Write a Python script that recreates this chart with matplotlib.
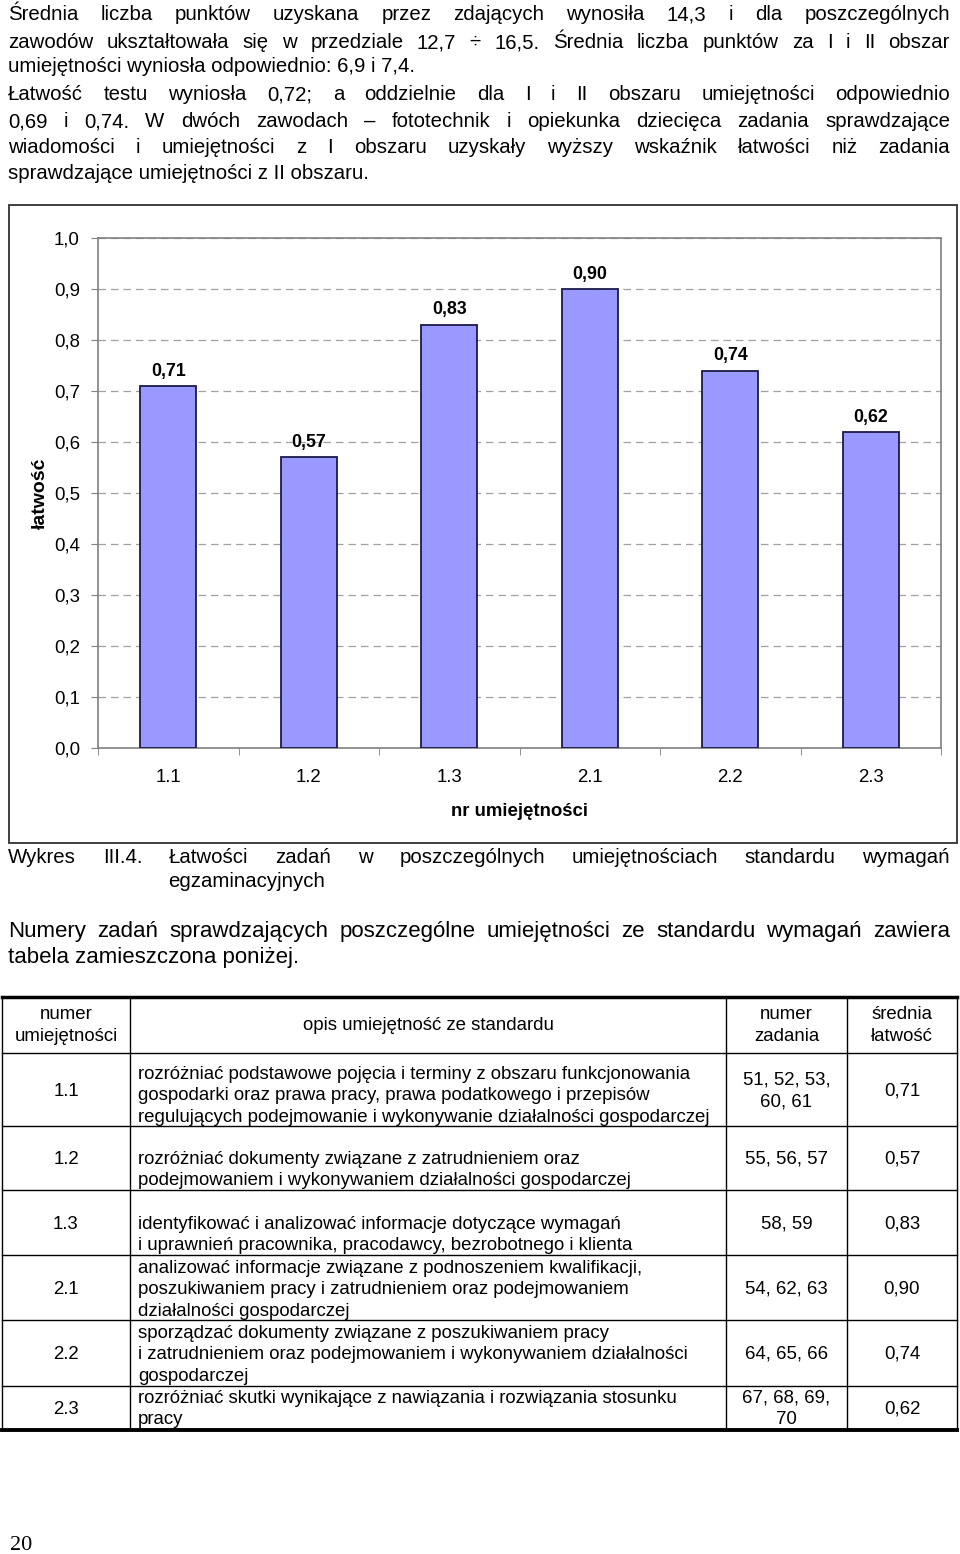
import numpy as np
import matplotlib.pyplot as plt
from matplotlib.ticker import FuncFormatter, MultipleLocator

plt.rcParams['font.family'] = ['Liberation Sans', 'DejaVu Sans']

# data
skills = ['1.1', '1.2', '1.3', '2.1', '2.2', '2.3']
ease = [0.71, 0.57, 0.83, 0.90, 0.74, 0.62]
task_numbers = [['51, 52, 53,', '60, 61'], ['55, 56, 57'], ['58, 59'],
                ['54, 62, 63'], ['64, 65, 66'], ['67, 68, 69,', '70']]
descriptions = [
    ['rozróżniać podstawowe pojęcia i terminy z obszaru funkcjonowania',
     'gospodarki oraz prawa pracy, prawa podatkowego i przepisów',
     'regulujących podejmowanie i wykonywanie działalności gospodarczej'],
    ['rozróżniać dokumenty związane z zatrudnieniem oraz',
     'podejmowaniem i wykonywaniem działalności gospodarczej'],
    ['identyfikować i analizować informacje dotyczące wymagań',
     'i uprawnień pracownika, pracodawcy, bezrobotnego i klienta'],
    ['analizować informacje związane z podnoszeniem kwalifikacji,',
     'poszukiwaniem pracy i zatrudnieniem oraz podejmowaniem',
     'działalności gospodarczej'],
    ['sporządzać dokumenty związane z poszukiwaniem pracy',
     'i zatrudnieniem oraz podejmowaniem i wykonywaniem działalności',
     'gospodarczej'],
    ['rozróżniać skutki wynikające z nawiązania i rozwiązania stosunku',
     'pracy'],
]

intro = [
    ('Średnia liczba punktów uzyskana przez zdających wynosiła 14,3 i dla poszczególnych', True),
    ('zawodów ukształtowała się w przedziale 12,7 ÷ 16,5. Średnia liczba punktów za I i II obszar', True),
    ('umiejętności wyniosła odpowiednio: 6,9 i 7,4.', False),
    ('Łatwość testu wyniosła 0,72; a oddzielnie dla I i II obszaru umiejętności odpowiednio', True),
    ('0,69 i 0,74. W dwóch zawodach – fototechnik i opiekunka dziecięca zadania sprawdzające', True),
    ('wiadomości i umiejętności z I obszaru uzyskały wyższy wskaźnik łatwości niż zadania', True),
    ('sprawdzające umiejętności z II obszaru.', False),
]
intro_y = [14, 42, 66, 94, 121, 147, 173]

W, H = 960, 1554
fig = plt.figure(figsize=(W / 100, H / 100), dpi=100)
page = fig.add_axes([0, 0, 1, 1])
page.set_xlim(0, W)
page.set_ylim(H, 0)
page.axis('off')
r = fig.canvas.get_renderer()

TXT = 14.7
BIG = 16
TS = 13.4


def base(y, size):
    # visual centre -> baseline
    return y + 0.3 * size * 100 / 72


def put(x, y, s, size, ha='left', **kw):
    return page.text(x, base(y, size), s, fontsize=size, ha=ha, va='baseline', **kw)


def justify(line, y, x0, x1, size, full=True):
    if not full:
        put(x0, y, line, size)
        return
    ts = [put(0, y, w, size) for w in line.split()]
    ws = [t.get_window_extent(r).width for t in ts]
    gap = (x1 - x0 - sum(ws)) / (len(ts) - 1)
    x = x0
    for t, w in zip(ts, ws):
        t.set_x(x)
        x += w + gap


for (line, full), y in zip(intro, intro_y):
    justify(line, y, 8, 950, TXT, full)

# chart frame
page.add_patch(plt.Rectangle((9, 205), 948, 638, fill=False, lw=1.3, ec='#303030'))

ax = fig.add_axes([98 / W, 1 - 748 / H, 843 / W, 510 / H])
x = np.arange(len(skills))
bars = ax.bar(x, ease, width=0.4, color='#9999FF', edgecolor='#1a1a4a', lw=1.3, zorder=3)
ax.set_xlim(-0.5, len(skills) - 0.5)
ax.set_ylim(0, 1.0)
ax.yaxis.set_major_locator(MultipleLocator(0.1))
ax.yaxis.set_major_formatter(FuncFormatter(lambda v, p: f'{v:.1f}'.replace('.', ',')))
ax.grid(axis='y', ls=(0, (6, 4)), color='#a0a0a0', lw=0.9)
for s in ax.spines.values():
    s.set_color('#808080')
    s.set_linewidth(1.2)
ax.set_xticks(x)
ax.set_xticklabels(skills)
ax.set_xticks(np.arange(-0.5, len(skills), 1.0), minor=True)
ax.tick_params(axis='x', which='major', length=0, pad=15, labelsize=TS)
ax.tick_params(axis='x', which='minor', length=5, color='#808080')
ax.tick_params(axis='y', length=5, color='#808080', pad=8, labelsize=TS)
for b, v in zip(bars, ease):
    ax.annotate(f'{v:.2f}'.replace('.', ','), (b.get_x() + b.get_width() / 2, v),
                xytext=(0, 4.5), textcoords='offset points', ha='center', va='bottom',
                fontsize=12.8, fontweight='bold')
ax.set_ylabel('łatwość', fontweight='bold', fontsize=14, va='center')
ax.yaxis.set_label_coords((40 - 98) / 843, 0.5)
ax.set_xlabel('nr umiejętności', fontweight='bold', fontsize=13.4, va='center')
ax.xaxis.set_label_coords(0.5, -(812 - 748) / 510)

# caption
justify('Wykres III.4. Łatwości zadań w poszczególnych umiejętnościach standardu wymagań', 857, 8, 950, TXT)
put(168, 881, 'egzaminacyjnych', TXT)
justify('Numery zadań sprawdzających poszczególne umiejętności ze standardu wymagań zawiera', 930, 8, 950, BIG)
put(8, 956, 'tabela zamieszczona poniżej.', BIG)

# table
cols = [2, 130, 726, 847, 957]
rows = [997, 1053, 1126, 1190, 1255, 1320, 1386, 1430]
for cx in cols:
    page.plot([cx, cx], [rows[0], rows[-1]], color='black', lw=1.0)
page.plot([cols[0], cols[-1]], [rows[0], rows[0]], color='black', lw=2.5)
page.plot([cols[0], cols[-1]], [rows[-1], rows[-1]], color='black', lw=2.8)
for ry in rows[1:-1]:
    page.plot([cols[0], cols[-1]], [ry, ry], color='black', lw=1.0)

mid = [(a + b) / 2 for a, b in zip(cols[:-1], cols[1:])]
put(mid[0], 1013, 'numer', TS, ha='center')
put(mid[0], 1035, 'umiejętności', TS, ha='center')
put(mid[1], 1024, 'opis umiejętność ze standardu', TS, ha='center')
put(mid[2], 1013, 'numer', TS, ha='center')
put(mid[2], 1035, 'zadania', TS, ha='center')
put(mid[3], 1013, 'średnia', TS, ha='center')
put(mid[3], 1035, 'łatwość', TS, ha='center')

num_y = [1090, 1158, 1223, 1288, 1353, 1408]
desc_y = [1073, 1158, 1223, 1267, 1332, 1397]
task_y = [1079, 1158, 1223, 1288, 1353, 1397]
LS = 21.5
for i, s in enumerate(skills):
    put(mid[0], num_y[i], s, TS, ha='center')
    for k, ln in enumerate(descriptions[i]):
        put(138, desc_y[i] + k * LS, ln, TS)
    for k, ln in enumerate(task_numbers[i]):
        put(mid[2], task_y[i] + k * LS, ln, TS, ha='center')
    put(mid[3], num_y[i], f'{ease[i]:.2f}'.replace('.', ','), TS, ha='center')

put(10, 1543, '20', 16, family='Liberation Serif')

fig.savefig('out.png', dpi=100)
